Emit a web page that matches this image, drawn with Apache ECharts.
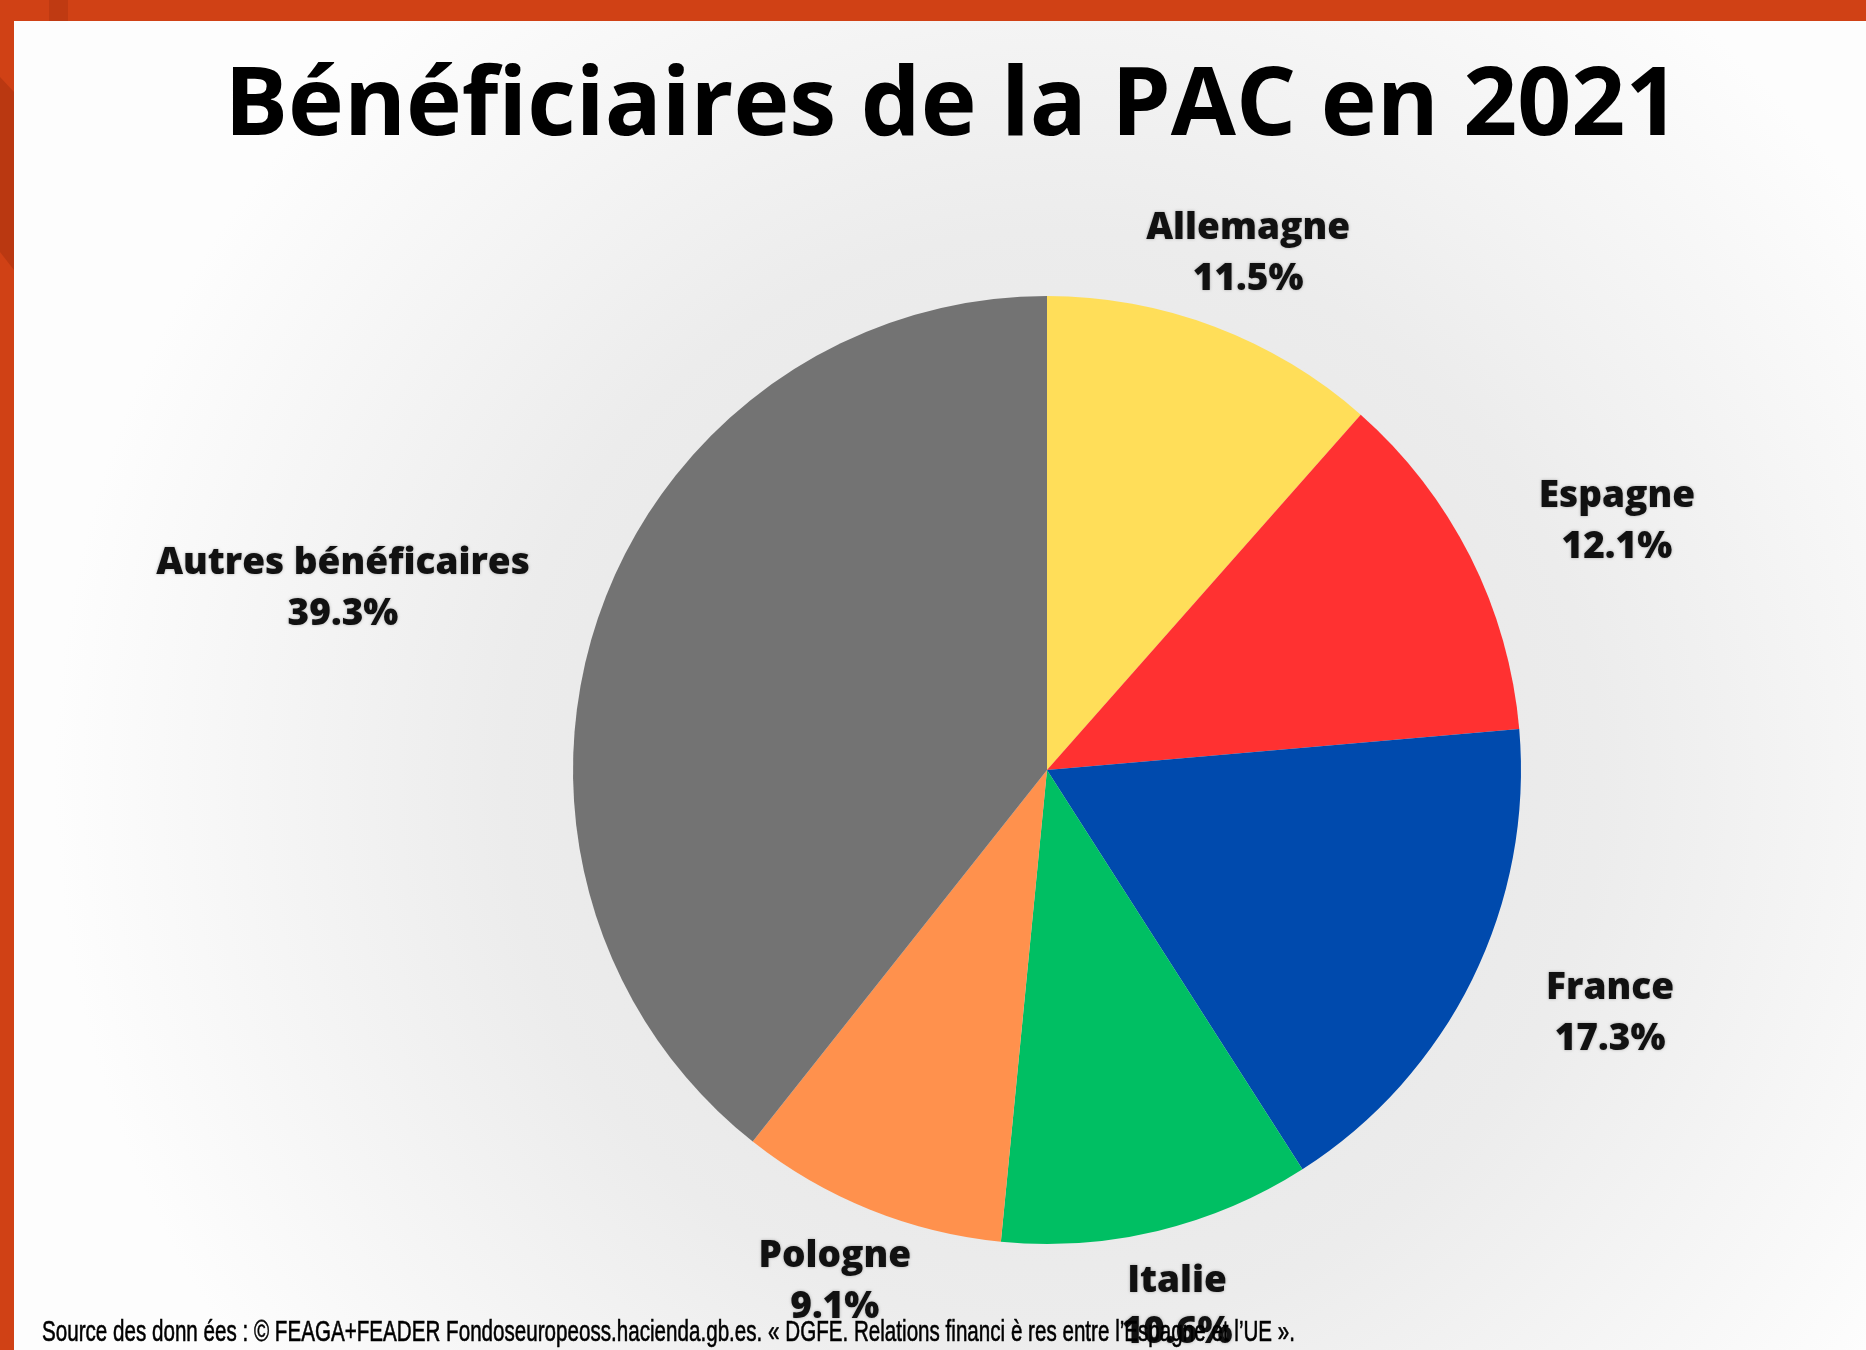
<!DOCTYPE html>
<html>
<head>
<meta charset="utf-8">
<script src="https://cdn.jsdelivr.net/npm/echarts@6/dist/echarts.min.js"></script>
<style>
html,body{margin:0;padding:0;background:#fff;}
#chart{width:1866px;height:1350px;}
</style>
</head>
<body>
<div id="chart"></div>
<script>
// ---- data ----
const categories = ['Allemagne', 'Espagne', 'France', 'Italie', 'Pologne', 'Autres bénéficaires'];
const values = [11.5, 12.1, 17.3, 10.6, 9.1, 39.3];
const colors = ['#FFDE59', '#FF3131', '#004AAD', '#00BF63', '#FF914D', '#737373'];
const titleText = 'Bénéficiaires de la PAC en 2021';
const sourceText = 'Source des donn ées : © FEAGA+FEADER Fondoseuropeoss.hacienda.gb.es. « DGFE. Relations financi è res entre l’Espagne et l’UE ».';

// ---- layout ----
const W = 1866, H = 1350;
const CX = 1047, CY = 770, R = 474;
const BORDER_LEFT = 14, BORDER_TOP = 21;

const total = values.reduce((a, b) => a + b, 0);
let cum = 0;
const midAngles = values.map(v => { const m = (cum + v / 2) / total; cum += v; return m * 2 * Math.PI; });

// condense footer font to match the narrow typeface of the reference
const footFont = '30px "Liberation Sans Narrow", "Liberation Sans", Arial, sans-serif';
const mctx = document.createElement('canvas').getContext('2d');
mctx.font = footFont;
const footW = mctx.measureText(sourceText).width;
const footScale = 1253 / footW;

const chart = echarts.init(document.getElementById('chart'), null, {renderer: 'canvas'});
chart.setOption({
  animation: false,
  backgroundColor: '#D04115',
  graphic: [
    {
      type: 'rect', z: -100,
      shape: {x: BORDER_LEFT, y: BORDER_TOP, width: W - BORDER_LEFT, height: H - BORDER_TOP},
      style: {
        fill: {
          type: 'radial', x: 0.56, y: 0.57, r: 0.75,
          colorStops: [
            {offset: 0, color: '#e3e3e3'},
            {offset: 0.55, color: '#ececec'},
            {offset: 1, color: '#fdfdfd'}
          ]
        }
      }
    },
    {type: 'rect', z: -90, shape: {x: 49, y: 0, width: 19, height: BORDER_TOP}, style: {fill: '#BF3A12'}},
    {type: 'polygon', z: -90, shape: {points: [[0, 77], [BORDER_LEFT, 92], [BORDER_LEFT, 270], [0, 252]]}, style: {fill: '#BA3811'}},
    {
      type: 'text', z: 100, x: 952, y: 108,
      style: {
        text: titleText, fill: '#000', font: 'bold 94.5px "Open Sans", sans-serif',
        textAlign: 'center', textVerticalAlign: 'middle'
      }
    },
    {
      type: 'text', z: 100, x: 42, y: 1333, scaleX: footScale, originX: 0,
      style: {
        text: sourceText, fill: '#000', font: footFont,
        stroke: '#000', lineWidth: 0.6,
        textAlign: 'left', textVerticalAlign: 'middle'
      }
    }
  ],
  series: [{
    type: 'pie',
    center: [CX, CY],
    radius: R,
    startAngle: 90,
    clockwise: true,
    avoidLabelOverlap: false,
    silent: true,
    data: categories.map((c, i) => ({name: c, value: values[i], itemStyle: {color: colors[i]}})),
    itemStyle: {borderWidth: 0},
    label: {
      show: true,
      position: 'outside',
      formatter: p => p.name + '\n' + p.value.toFixed(1) + '%',
      fontFamily: '"Open Sans", sans-serif',
      fontWeight: 800,
      fontSize: 37,
      lineHeight: 51,
      color: '#111',
      align: 'center',
      textShadowColor: 'rgba(0,0,0,0.3)',
      textShadowBlur: 3
    },
    labelLine: {show: false},
    labelLayout: function (p) {
      const a = midAngles[p.dataIndex];
      const ux = Math.sin(a), uy = -Math.cos(a);
      const w = p.labelRect.width;
      const ry = R + 78;
      const rx = ry + ux * ux * (w / 2 + 30);
      return {x: CX + ux * rx, y: CY + uy * ry, align: 'center', verticalAlign: 'middle'};
    }
  }]
});
</script>
</body>
</html>
